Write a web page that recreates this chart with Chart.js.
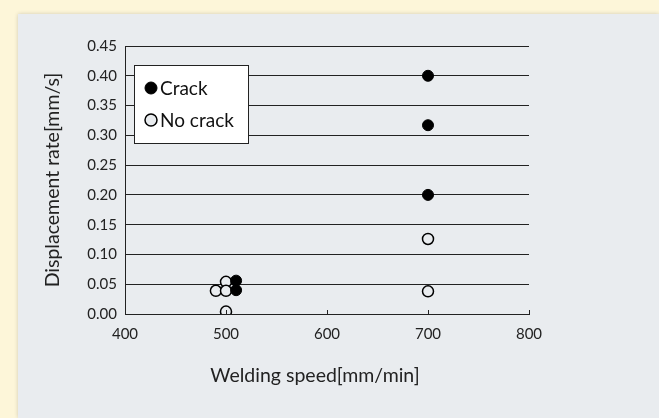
<!DOCTYPE html>
<html>
<head>
<meta charset="utf-8">
<script src="https://cdn.jsdelivr.net/npm/chart.js@4.4.1/dist/chart.umd.min.js"></script>
<style>
  html, body { margin: 0; padding: 0; width: 659px; height: 418px; overflow: hidden; background: #fdf6d9; }
  .panel { position: absolute; left: 18px; top: 14px; right: 0; bottom: 0; background: #e9ecef; box-shadow: 0 0 4px rgba(0,0,0,0.18); }
  canvas { position: absolute; left: 0; top: 0; }
</style>
</head>
<body>
<div class="panel"></div>
<canvas id="chart" width="659" height="418"></canvas>
<script>
// values
const crackSpeed = [700, 700, 700, 510, 510];
const crackRate = [0.40, 0.317, 0.20, 0.056, 0.040];
const noCrackSpeed = [700, 700, 500, 490, 500, 500];
const noCrackRate = [0.126, 0.038, 0.054, 0.039, 0.039, 0.004];
const xTicks = [400, 500, 600, 700, 800];
const yTicks = [0, 0.05, 0.10, 0.15, 0.20, 0.25, 0.30, 0.35, 0.40, 0.45];

const PANEL = '#e9ecef';
const FONT = 'Lato, "Open Sans", sans-serif';

const toPoints = (xs, ys) => xs.map((x, i) => ({ x: x, y: ys[i] }));

// legend drawn inside the plot, as a boxed panel
const legendBox = {
  id: 'legendBox',
  afterDatasetsDraw(chart, args, opts) {
    const ctx = chart.ctx;
    ctx.save();
    ctx.fillStyle = '#fff';
    ctx.fillRect(opts.x, opts.y, opts.w, opts.h);
    ctx.strokeStyle = '#222';
    ctx.lineWidth = 1;
    ctx.strokeRect(opts.x + 0.5, opts.y + 0.5, opts.w, opts.h);
    ctx.font = opts.font;
    ctx.textBaseline = 'middle';
    chart.data.datasets.forEach((ds, i) => {
      const cy = opts.y + opts.first + i * opts.gap;
      ctx.fillStyle = ds.backgroundColor;
      ctx.strokeStyle = ds.borderColor;
      ctx.lineWidth = ds.borderWidth;
      Chart.helpers.drawPoint(ctx, { pointStyle: 'circle', radius: 6, borderWidth: ds.borderWidth }, opts.x + 17, cy);
      ctx.fillStyle = '#111';
      ctx.fillText(ds.label, opts.x + 26, cy + 1);
    });
    ctx.restore();
  }
};

// short upward ticks on the x axis, plus its title
const xAxisExtras = {
  id: 'xAxisExtras',
  afterDatasetsDraw(chart, args, opts) {
    const ctx = chart.ctx;
    const sx = chart.scales.x;
    ctx.save();
    ctx.strokeStyle = '#222';
    ctx.lineWidth = 1;
    sx.ticks.forEach(t => {
      const px = Math.round(sx.getPixelForValue(t.value)) + 0.5;
      ctx.beginPath();
      ctx.moveTo(px, sx.top);
      ctx.lineTo(px, sx.top - 4);
      ctx.stroke();
    });
    ctx.fillStyle = '#222';
    ctx.font = opts.font;
    ctx.textAlign = 'center';
    ctx.textBaseline = 'middle';
    ctx.fillText(opts.text, opts.x, opts.y);
    ctx.restore();
  }
};

new Chart(document.getElementById('chart'), {
  type: 'scatter',
  data: {
    datasets: [
      {
        label: 'Crack',
        data: toPoints(crackSpeed, crackRate),
        backgroundColor: '#000',
        borderColor: '#000',
        borderWidth: 1,
        pointRadius: 5.5
      },
      {
        label: 'No crack',
        data: toPoints(noCrackSpeed, noCrackRate),
        backgroundColor: PANEL,
        borderColor: '#000',
        borderWidth: 1.5,
        pointRadius: 5.5
      }
    ]
  },
  plugins: [legendBox, xAxisExtras],
  options: {
    responsive: false,
    animation: false,
    layout: { padding: { top: 46, right: 130, left: 0, bottom: 0 } },
    plugins: {
      legend: { display: false },
      tooltip: { enabled: false },
      legendBox: { x: 134, y: 65, w: 114, h: 78, first: 23, gap: 32, font: '19px ' + FONT },
      xAxisExtras: { text: 'Welding speed[mm/min]', x: 315, y: 376, font: '19.5px ' + FONT }
    },
    scales: {
      x: {
        type: 'linear',
        min: 400,
        max: 800,
        afterFit: s => { s.height = 104; },
        afterBuildTicks: s => { s.ticks = xTicks.map(v => ({ value: v })); },
        grid: { display: false, drawTicks: false },
        border: { display: true, color: '#222', width: 1 },
        ticks: { padding: 11, color: '#222', font: { family: FONT, size: 15 } }
      },
      y: {
        min: 0,
        max: 0.45,
        afterFit: s => { s.width = 125; },
        afterBuildTicks: s => { s.ticks = yTicks.map(v => ({ value: v })); },
        grid: { color: '#222', lineWidth: 1, drawTicks: false },
        border: { display: true, color: '#222', width: 1 },
        ticks: {
          padding: 8,
          color: '#222',
          font: { family: FONT, size: 15 },
          callback: v => v.toFixed(2)
        },
        title: {
          display: true,
          text: 'Displacement rate[mm/s]',
          color: '#222',
          font: { family: FONT, size: 19.5 },
          padding: { top: 41, bottom: 0 }
        }
      }
    }
  }
});
</script>
</body>
</html>
